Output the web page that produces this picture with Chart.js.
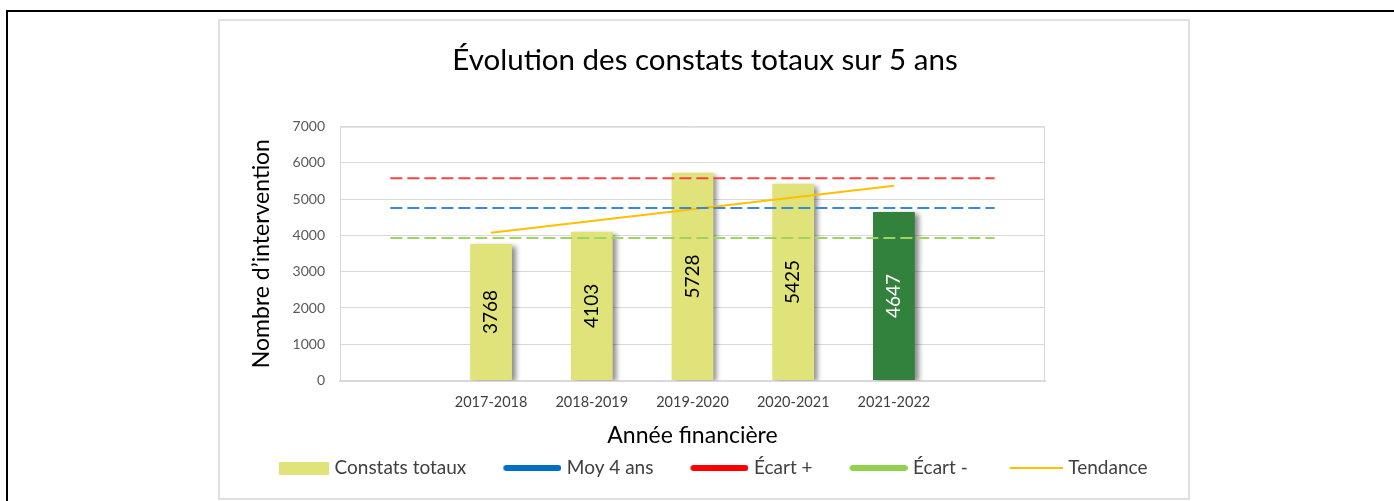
<!DOCTYPE html>
<html lang="fr">
<head>
<meta charset="utf-8">
<title>Évolution des constats totaux sur 5 ans</title>
<script src="https://cdn.jsdelivr.net/npm/chart.js@4.4.1/dist/chart.umd.min.js"></script>
<style>
    html, body { margin: 0; padding: 0; background: #fff; width: 1394px; height: 501px; overflow: hidden; }
    #frame { position: absolute; left: 6px; top: 10px; width: 1400px; height: 500px; border-top: 2px solid #000; border-left: 2px solid #000; }
    #box { position: absolute; left: 218px; top: 19px; width: 972px; height: 481px; border: 2px solid #e0e0e0; box-sizing: border-box; }
    #wrap { position: relative; width: 968px; height: 477px; }
</style>
</head>
<body>
<div id="frame"></div>
<div id="box"><div id="wrap"><canvas id="mainChart"></canvas></div></div>
<script>
// Catégories (une case vide de chaque côté comme dans Excel)
const categories = ['', '2017-2018', '2018-2019', '2019-2020', '2020-2021', '2021-2022', ''];
const constats = [null, 3768, 4103, 5728, 5425, 4647, null];
const moy4ans = [4756, 4756, 4756, 4756, 4756, 4756, 4756];
const ecartPlus = [5580, 5580, 5580, 5580, 5580, 5580, 5580];
const ecartMoins = [3932, 3932, 3932, 3932, 3932, 3932, 3932];
const tendance = [null, 4072, 4398, 4723, 5049, 5374, null];
const yTicks = [0, 1000, 2000, 3000, 4000, 5000, 6000, 7000];

const FONT = 'Lato, "Open Sans", sans-serif';
const BAR_COLOR = '#e0e27a';
const BAR_LAST = '#32823e';

// Petits marqueurs de légende dessinés dans un canvas (la légende de Chart.js les centre)
function makeMarker(kind, color, w) {
    const c = document.createElement('canvas');
    c.width = 92;
    c.height = 16;
    const g = c.getContext('2d');
    const x0 = c.width - w;
    if (kind === 'box') {
        g.fillStyle = color;
        g.fillRect(x0, 2, w, 13);
    } else {
        g.strokeStyle = color;
        g.lineWidth = kind === 'thick' ? 6 : 2;
        g.lineCap = kind === 'thick' ? 'round' : 'butt';
        const off = kind === 'thick' ? 3 : 0;
        g.beginPath();
        g.moveTo(x0 + off, 8);
        g.lineTo(c.width - off, 8);
        g.stroke();
    }
    return c;
}

const markers = [
    makeMarker('box', BAR_COLOR, 50),
    makeMarker('thick', '#0070c0', 58),
    makeMarker('thick', '#ff0000', 58),
    makeMarker('thick', '#92d050', 58),
    makeMarker('thin', '#ffc000', 53)
];

// Ombre portée des barres
const barShadow = {
    id: 'barShadow',
    beforeDatasetDraw(chart, args) {
        if (args.meta.type !== 'bar') return;
        const ctx = chart.ctx;
        ctx.save();
        ctx.shadowColor = 'rgba(0, 0, 0, 0.45)';
        ctx.shadowOffsetX = 4;
        ctx.shadowOffsetY = 2;
        ctx.shadowBlur = 5;
    },
    afterDatasetDraw(chart, args) {
        if (args.meta.type !== 'bar') return;
        chart.ctx.restore();
    }
};

// Cadre de la zone de traçage
const plotBorder = {
    id: 'plotBorder',
    beforeDatasetsDraw(chart) {
        const { ctx, chartArea: a } = chart;
        ctx.save();
        ctx.strokeStyle = '#d9d9d9';
        ctx.lineWidth = 1;
        ctx.strokeRect(a.left + 0.5, a.top + 0.5, a.right - a.left - 1, a.bottom - a.top);
        ctx.restore();
    }
};

// Étiquettes verticales au centre des barres
const barLabels = {
    id: 'barLabels',
    afterDatasetsDraw(chart) {
        const ctx = chart.ctx;
        const meta = chart.getDatasetMeta(0);
        ctx.save();
        ctx.font = '19px ' + FONT;
        ctx.textAlign = 'center';
        ctx.textBaseline = 'middle';
        meta.data.forEach((bar, i) => {
            const v = constats[i];
            if (v === null) return;
            ctx.save();
            ctx.translate(bar.x, (bar.y + bar.base) / 2);
            ctx.rotate(-Math.PI / 2);
            ctx.fillStyle = i === 5 ? '#ffffff' : '#000000';
            ctx.fillText(String(v), 0, 0);
            ctx.restore();
        });
        ctx.restore();
    }
};

const lineBase = { type: 'line', pointRadius: 0, borderWidth: 2, fill: false, order: 0, spanGaps: false };

const ctx = document.getElementById('mainChart').getContext('2d');
new Chart(ctx, {
    type: 'bar',
    data: {
        labels: categories,
        datasets: [
            {
                label: 'Constats totaux',
                data: constats,
                backgroundColor: constats.map((v, i) => i === 5 ? BAR_LAST : BAR_COLOR),
                categoryPercentage: 1,
                barPercentage: 0.415,
                order: 1
            },
            { ...lineBase, label: 'Moy 4 ans', data: moy4ans, borderColor: '#3d87d6', borderDash: [12, 5] },
            { ...lineBase, label: 'Écart +', data: ecartPlus, borderColor: '#f44545', borderDash: [12, 5] },
            { ...lineBase, label: 'Écart -', data: ecartMoins, borderColor: '#a0d462', borderDash: [12, 5] },
            { ...lineBase, label: 'Tendance', data: tendance, borderColor: '#ffc000', borderWidth: 2 }
        ]
    },
    options: {
        responsive: true,
        maintainAspectRatio: false,
        animation: false,
        layout: { padding: { left: 14, right: 12, top: 0, bottom: 10.5 } },
        scales: {
            x: {
                grid: { display: false },
                border: { display: true, color: '#d9d9d9', width: 2 },
                ticks: { color: '#404040', font: { family: FONT, size: 14.5 }, padding: 5, maxRotation: 0, autoSkip: false },
                title: { display: true, text: 'Année financière', color: '#000', font: { family: FONT, size: 23 }, padding: { top: 2, bottom: 1.7 } },
                afterFit: s => { s.height = 71; }
            },
            y: {
                min: 0,
                max: 7000,
                afterBuildTicks: s => { s.ticks = yTicks.map(v => ({ value: v })); },
                grid: { color: '#d9d9d9', drawTicks: false },
                border: { display: false },
                ticks: { color: '#595959', font: { family: FONT, size: 14 }, padding: 15, callback: v => String(v) },
                title: { display: true, text: 'Nombre d’intervention', color: '#000', font: { family: FONT, size: 23 }, padding: { top: 14.2, bottom: 0 } },
                afterFit: s => { s.width = 106; }
            },
            // axe vide à droite, sert seulement à réserver la marge
            yRight: {
                position: 'right',
                display: true,
                grid: { display: false },
                border: { display: false },
                ticks: { display: false },
                afterFit: s => { s.width = 131; }
            }
        },
        plugins: {
            title: {
                display: true,
                text: 'Évolution des constats totaux sur 5 ans',
                color: '#000',
                font: { family: FONT, size: 29.5, weight: 'normal' },
                padding: { top: 21.3, bottom: 49 }
            },
            legend: {
                position: 'bottom',
                align: 'start',
                labels: {
                    usePointStyle: true,
                    pointStyleWidth: 84,
                    padding: 7,
                    color: '#404040',
                    font: { family: FONT, size: 19 },
                    generateLabels: chart => chart.data.datasets.map((ds, i) => ({
                        text: ds.label,
                        pointStyle: markers[i],
                        datasetIndex: i,
                        hidden: false,
                        fontColor: '#404040',
                        lineWidth: 0,
                        strokeStyle: 'transparent',
                        fillStyle: 'transparent'
                    }))
                }
            },
            tooltip: { enabled: false }
        }
    },
    plugins: [barShadow, plotBorder, barLabels]
});
</script>
</body>
</html>
